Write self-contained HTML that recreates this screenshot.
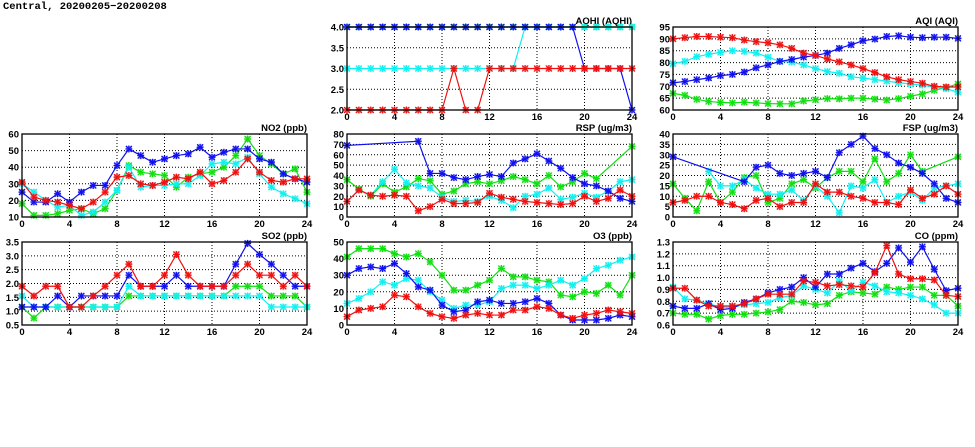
<!DOCTYPE html>
<html><head><meta charset="utf-8"><style>
html,body{margin:0;padding:0;background:#fff;width:975px;height:447px;overflow:hidden}
svg text{font-family:"Liberation Sans",sans-serif;font-size:9.5px;font-weight:bold;fill:#000}
</style></head><body>
<svg id="s" width="975" height="447" xmlns="http://www.w3.org/2000/svg">
<text x="3" y="9" style="font-family:'Liberation Mono',monospace;font-size:10.5px">Central, 20200205−20200208</text>
</svg>
<script>
const N=null;
const C={b:"#1010f0",g:"#10e010",c:"#10f0f0",r:"#f01010"};
const P=[
{x:347,y:27,t:"AQHI (AQHI)",min:2,max:4,step:0.5,dec:1,s:{
 g:Array(25).fill(4),
 c:[3,3,3,3,3,3,3,3,3,3,3,3,3,3,3,4,4,4,4,4,4,4,4,4,4],
 b:[4,4,4,4,4,4,4,4,4,4,4,4,4,4,4,4,4,4,4,4,3,3,3,3,2],
 r:[2,2,2,2,2,2,2,2,2,3,2,2,3,3,3,3,3,3,3,3,3,3,3,3,3]}},
{x:673,y:27,t:"AQI (AQI)",min:60,max:95,step:5,dec:0,s:{
 g:[67,66.2,64.5,63.6,63.2,63,63.3,63,62.7,62.6,62.6,63.8,64.3,64.8,64.7,65,65,64.6,64.2,64.8,65.8,66.8,68.3,69.5,71],
 c:[79.5,80.5,82.5,83.5,84.3,85,84.7,84,82.3,80.5,80.2,79,77.5,76.2,75.5,74,73.5,72.8,72.2,71.5,71,70.5,69.7,69,67.5],
 b:[71.5,72,72.8,73.5,74.5,75,76,77.8,79,80.5,81.3,82.3,83,84,86,87.5,89.2,89.9,91,91.3,90.7,90.5,90.7,90.7,90.2],
 r:[90,90.5,91,91,90.7,90.5,89.5,88.8,88.3,87.5,86,84,83,81.5,80.3,79,77.5,75.8,74,72.8,72,71.3,70,69.7,69.7]}},
{x:22,y:134,t:"NO2 (ppb)",min:10,max:60,step:10,dec:0,s:{
 g:[18,11,11,12,14,15,12,15,26,41,37,36,35,28,34,36,37,40,47,57,47,42,36,39,25],
 c:[30,25,20,16,17,11,13,19,26,40,28,29,29,30,30,35,42,43,42,46,36,28,24,21,18],
 b:[25,19,19,24,19,25,29,29,41,51,47,43,45,47,48,52,46,49,51,51,45,43,36,33,31],
 r:[31,22,20,19,17,15,19,25,34,35,30,29,31,34,33,37,30,32,37,45,37,32,31,33,33]}},
{x:347,y:134,t:"RSP (ug/m3)",min:0,max:80,step:10,dec:0,s:{
 g:[36,27,20,32,24,29,37,35,22,25,32,34,32,35,39,36,32,40,29,34,42,37,N,N,68],
 c:[N,26,21,34,46,33,30,28,19,15,16,15,20,16,9,20,22,28,17,19,23,19,25,34,36],
 b:[69,N,N,N,N,N,73,42,42,38,36,39,41,39,52,56,61,54,47,38,32,30,25,18,15],
 r:[15,26,21,20,21,20,6,10,17,13,13,14,23,19,17,15,14,13,12,13,20,15,18,26,20]}},
{x:673,y:134,t:"FSP (ug/m3)",min:0,max:40,step:5,dec:0,s:{
 g:[16,9,3,17,7,12,19,20,7,9,16,18,14,19,22,22,17,28,17,21,30,22,N,N,29],
 c:[N,N,N,22,15,15,18,14,11,11,13,8,15,10,2,15,14,18,7,10,12,8,14,15,16],
 b:[29,N,N,N,N,N,17,24,25,21,20,21,22,19,31,35,39,33,30,26,24,21,16,9,7],
 r:[7,8,10,10,7,6,4,8,9,5,7,7,16,12,12,10,9,7,7,6,13,9,11,15,11]}},
{x:22,y:242,t:"SO2 (ppb)",min:0.5,max:3.5,step:0.5,dec:1,s:{
 g:[1.15,0.75,1.15,1.15,1.15,1.15,1.15,1.15,1.15,1.55,1.55,1.55,1.55,1.55,1.55,1.55,1.55,1.55,1.9,1.9,1.9,1.55,1.55,1.55,1.15],
 c:[1.55,1.15,1.15,1.15,1.15,1.15,1.15,1.15,1.15,1.9,1.55,1.55,1.55,1.55,1.55,1.55,1.55,1.55,1.55,1.55,1.55,1.15,1.15,1.15,1.15],
 b:[1.15,1.15,1.15,1.55,1.15,1.55,1.55,1.55,1.55,2.3,1.9,1.9,1.9,2.3,1.9,1.9,1.9,1.9,2.7,3.45,3.05,2.7,2.3,1.9,1.9],
 r:[1.9,1.55,1.9,1.9,1.15,1.15,1.55,1.9,2.3,2.7,1.9,1.9,2.3,3.05,2.3,1.9,1.9,1.9,2.3,2.7,2.3,2.3,1.9,2.3,1.9]}},
{x:347,y:242,t:"O3 (ppb)",min:0,max:50,step:10,dec:0,s:{
 g:[41,46,46,46,43,41,43,38,30,21,21,24,27,34,29,29,27,26,18,17,20,19,24,18,30],
 c:[13,16,20,26,24,28,27,20,15,10,12,12,14,22,24,24,22,24,27,24,28,34,36,39,41],
 b:[30,34,35,34,37,31,23,21,12,8,9,14,15,13,13,14,16,13,6,3,3,3,4,6,5],
 r:[5,9,10,11,18,17,11,7,5,4,6,7,6,6,9,9,11,10,6,4,6,7,9,8,7]}},
{x:673,y:242,t:"CO (ppm)",min:0.6,max:1.3,step:0.1,dec:1,s:{
 g:[.70,.69,.69,.65,.68,.69,.69,.70,.71,.73,.80,.79,.77,.78,.85,.88,.87,.86,.92,.90,.92,.92,.85,.85,.76],
 c:[.92,.82,.81,.78,.75,.75,.77,.78,.79,.83,.85,.93,.90,.87,.97,.89,.96,.93,.88,.87,.85,.82,.77,.70,.70],
 b:[.76,.74,.74,.78,.73,.74,.79,.82,.87,.90,.92,1.0,.92,1.03,1.03,1.08,1.12,1.05,1.12,1.25,1.13,1.26,1.07,.89,.91],
 r:[.91,.91,.81,.76,.76,.76,.78,.82,.86,.86,.86,.97,.96,.93,.94,.93,.92,1.04,1.27,1.03,.99,.99,.98,.85,.84]}}
];
const W=285,H=83;let o="";
for(const p of P){
 const X=i=>p.x+i*W/24,Y=v=>p.y+H-(v-p.min)/(p.max-p.min)*H;
 o+=`<text x="${p.x+W}" y="${p.y-3}" text-anchor="end">${p.t}</text>`;
 const n=Math.round((p.max-p.min)/p.step);
 for(let k=0;k<=n;k++){const v=p.min+k*p.step,y=Y(v);
  o+=`<text x="${p.x-3}" y="${y+3.5}" text-anchor="end">${v.toFixed(p.dec)}</text>`;
  if(k>0&&k<n)o+=`<line x1="${p.x}" x2="${p.x+W}" y1="${y}" y2="${y}" stroke="#000" stroke-width="1" stroke-dasharray="1,2"/>`;}
 for(let i=0;i<=24;i+=4){const x=X(i);
  o+=`<text x="${x}" y="${p.y+H+10}" text-anchor="middle">${i}</text>`;
  if(i>0&&i<24)o+=`<line x1="${x}" x2="${x}" y1="${p.y}" y2="${p.y+H}" stroke="#000" stroke-dasharray="1,2"/>`;}
 for(const k of ["g","c","b","r"]){const d=p.s[k];let pts=[];
  d.forEach((v,i)=>{if(v!==N)pts.push([X(i),Y(v)])});
  o+=`<polyline fill="none" stroke="${C[k]}" stroke-width="1.2" points="${pts.map(q=>q.join(',')).join(' ')}"/>`;
  for(const [x,y] of pts){o+=`<path d="M${x-3},${y-3}L${x+3},${y+3}M${x-3},${y+3}L${x+3},${y-3}M${x-3.5},${y}H${x+3.5}M${x},${y-3.5}V${y+3.5}" stroke="${C[k]}" stroke-width="1.2"/><rect x="${x-2.5}" y="${y-2.5}" width="5" height="5" fill="none" stroke="${C[k]}" stroke-opacity="0.4"/>`;}
 }
 o+=`<rect x="${p.x}" y="${p.y}" width="${W}" height="${H}" fill="none" stroke="#000" stroke-width="1.3"/>`;
}
document.getElementById("s").insertAdjacentHTML("beforeend",o);
</script>
</body></html>
